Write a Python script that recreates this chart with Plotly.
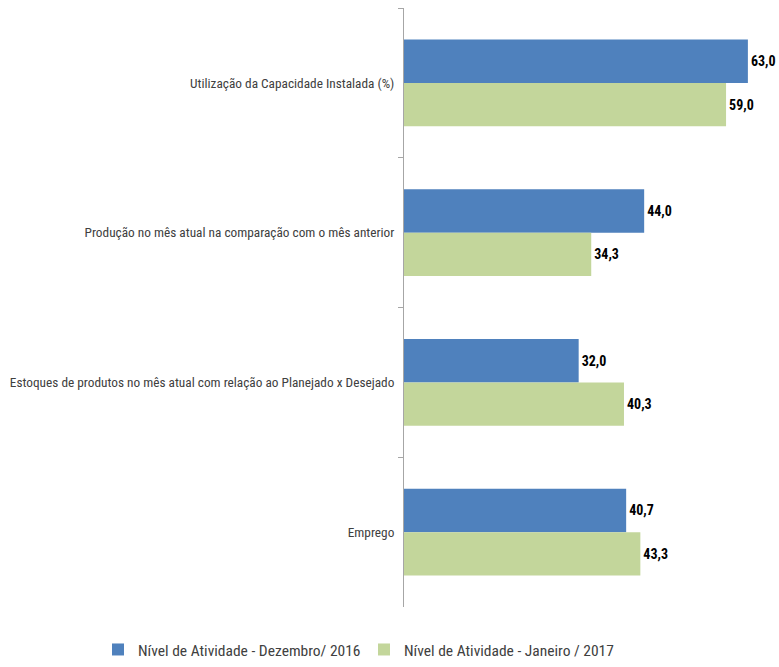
import plotly.graph_objects as go

categories = [
    "Utilização da Capacidade Instalada (%)",
    "Produção no mês atual na comparação com o mês anterior",
    "Estoques de produtos no mês atual com relação ao Planejado x Desejado",
    "Emprego",
]
dez_2016 = [63.0, 44.0, 32.0, 40.7]
jan_2017 = [59.0, 34.3, 40.3, 43.3]
series_names = ["Nível de Atividade - Dezembro/ 2016", "Nível de Atividade - Janeiro / 2017"]

FONT = "Liberation Sans Narrow, Roboto Condensed, Arial Narrow, Roboto, sans-serif"

fig = go.Figure()
fig.add_trace(go.Bar(
    y=categories, x=dez_2016, orientation="h", name=series_names[0],
    marker=dict(color="#4F81BD", line=dict(width=0)),
    texttemplate="%{x:.1f}", textposition="outside", cliponaxis=False,
    textfont=dict(family=FONT, size=14, color="#000000", weight="bold"),
))
fig.add_trace(go.Bar(
    y=categories, x=jan_2017, orientation="h", name=series_names[1],
    marker=dict(color="#C3D69B", line=dict(width=0)),
    texttemplate="%{x:.1f}", textposition="outside", cliponaxis=False,
    textfont=dict(family=FONT, size=14, color="#000000", weight="bold"),
))

fig.update_layout(
    width=779, height=667,
    margin=dict(l=404, r=0, t=8, b=60),
    paper_bgcolor="white", plot_bgcolor="white",
    barmode="group", bargap=0.42, bargroupgap=0,
    separators=",.",
    font=dict(family=FONT, size=14, color="#404040"),
    xaxis=dict(range=[0, 68.7], visible=False, showgrid=False, zeroline=False),
    yaxis=dict(
        autorange="reversed", showline=True, linecolor="#A6A6A6", linewidth=1,
        ticks="outside", tickson="boundaries", ticklen=5, tickcolor="#A6A6A6",
        showgrid=False, ticklabelstandoff=6, automargin=False,
        tickfont=dict(family=FONT, size=13.3, color="#404040"),
    ),
    legend=dict(
        orientation="h", xref="paper", yref="paper",
        x=-0.816, xanchor="left", y=-0.1, yanchor="bottom",
        font=dict(family=FONT, size=15.5, color="#404040"),
        itemwidth=30, entrywidthmode="pixels", entrywidth=221,
        traceorder="normal",
    ),
    showlegend=True,
)

fig.write_html("out.html")
